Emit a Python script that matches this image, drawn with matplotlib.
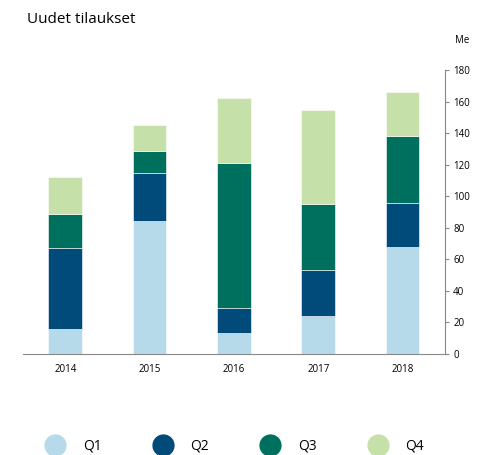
import numpy as np
import matplotlib
matplotlib.use("Agg")
import matplotlib.pyplot as plt
from matplotlib.lines import Line2D

# --- data ---
years = ["2014", "2015", "2016", "2017", "2018"]
q1 = [16, 84, 13, 24, 68]
q2 = [51, 31, 16, 29, 28]
q3 = [22, 14, 92, 42, 42]
q4 = [23, 16, 41, 60, 28]
quarters = ["Q1", "Q2", "Q3", "Q4"]
colors = ["#B7DAEB", "#004B7A", "#00705E", "#C5E0A8"]

plt.rcParams["font.family"] = ["Open Sans", "DejaVu Sans"]

fig = plt.figure(figsize=(4.92, 4.55), dpi=100)
ax = fig.add_axes([0.047, 0.222, 0.857, 0.624])

x = np.arange(len(years))
bottom = np.zeros(len(years))
for vals, c in zip([q1, q2, q3, q4], colors):
    ax.bar(x, vals, width=0.4, bottom=bottom, color=c,
           edgecolor="white", linewidth=0.4)
    bottom += np.array(vals)

ax.set_xlim(-0.5, 4.5)
ax.set_ylim(0, 180)
ax.set_yticks(np.arange(0, 181, 20))
ax.set_xticks(x)
ax.set_xticklabels(years, fontsize=7)

# axes styling
for s in ["top", "left"]:
    ax.spines[s].set_visible(False)
ax.spines["right"].set_color("#888888")
ax.spines["bottom"].set_color("#888888")
ax.spines["right"].set_linewidth(0.8)
ax.spines["bottom"].set_linewidth(0.8)
ax.yaxis.tick_right()
ax.tick_params(axis="y", direction="out", length=3, color="#888888",
               labelsize=7, pad=3)
ax.tick_params(axis="x", length=0, pad=7)

# titles
fig.text(0.055, 0.957, "Uudet tilaukset", fontsize=11, va="center", ha="left")
fig.text(0.94, 0.912, "Me", fontsize=7, va="center", ha="center")

# legend
handles = [Line2D([0], [0], marker="o", linestyle="none", markersize=15,
                  markerfacecolor=c, markeredgecolor=c) for c in colors]
fig.legend(handles, quarters, loc="center", bbox_to_anchor=(0.473, 0.02),
           ncol=4, frameon=False, fontsize=10, handletextpad=1.0,
           columnspacing=3.4)

fig.savefig("out.png", dpi=100)
